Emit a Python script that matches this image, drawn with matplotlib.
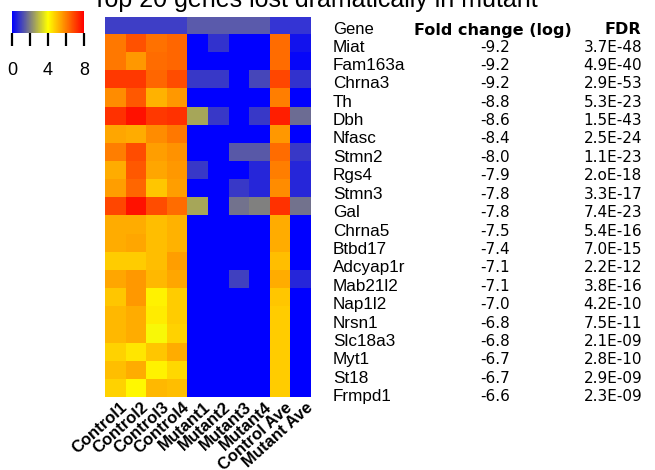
import numpy as np
import matplotlib
matplotlib.use('Agg')
import matplotlib.pyplot as plt
from matplotlib.colors import LinearSegmentedColormap, ListedColormap

W, H = 655, 470

genes = ['Miat', 'Fam163a', 'Chrna3', 'Th', 'Dbh', 'Nfasc', 'Stmn2', 'Rgs4', 'Stmn3', 'Gal',
         'Chrna5', 'Btbd17', 'Adcyap1r', 'Mab21l2', 'Nap1l2', 'Nrsn1', 'Slc18a3', 'Myt1', 'St18', 'Frmpd1']
fold = ['-9.2', '-9.2', '-9.2', '-8.8', '-8.6', '-8.4', '-8.0', '-7.9', '-7.8', '-7.8',
        '-7.5', '-7.4', '-7.1', '-7.1', '-7.0', '-6.8', '-6.8', '-6.7', '-6.7', '-6.6']
fdr = ['3.7E-48', '4.9E-40', '2.9E-53', '5.3E-23', '1.5E-43', '2.5E-24', '1.1E-23', '2.oE-18', '3.3E-17', '7.4E-23',
       '5.4E-16', '7.0E-15', '2.2E-12', '3.8E-16', '4.2E-10', '7.5E-11', '2.1E-09', '2.8E-10', '2.9E-09', '2.3E-09']

samples = ['Control1', 'Control2', 'Control3', 'Control4', 'Mutant1', 'Mutant2', 'Mutant3', 'Mutant4',
           'Control Ave', 'Mutant Ave']
groups = [0, 0, 0, 0, 1, 1, 1, 1, 2, 2]
group_colors = ['#3e3ec6', '#5a5aab', '#3434d4']

control1 = [6.1, 6.1, 7.1, 5.8, 7.2, 5.4, 6.0, 5.3, 5.5, 6.9, 5.3, 5.3, 4.8, 5.4, 4.9, 5.1, 5.1, 4.7, 5.0, 4.7]
control2 = [6.7, 5.6, 7.1, 6.6, 7.7, 5.3, 6.8, 6.6, 6.4, 7.7, 5.3, 5.4, 4.8, 5.6, 5.6, 5.3, 5.3, 4.4, 5.3, 4.1]
control3 = [6.2, 6.3, 6.4, 5.2, 7.1, 5.8, 5.5, 5.4, 4.9, 6.8, 5.0, 5.0, 5.0, 5.1, 4.2, 4.3, 3.9, 4.9, 4.2, 5.1]
control4 = [6.4, 6.4, 6.8, 5.6, 7.2, 6.1, 5.7, 5.6, 5.5, 6.3, 5.2, 5.2, 5.5, 5.4, 4.8, 4.8, 4.7, 5.3, 4.6, 5.0]
mutant1 = [0, 0, 0.9, 0, 2.6, 0, 0, 0.9, 0, 2.6, 0, 0, 0, 0, 0, 0, 0, 0, 0, 0]
mutant2 = [0.8, 0, 0.9, 0, 0.9, 0, 0, 0, 0, 0, 0, 0, 0, 0, 0, 0, 0, 0, 0, 0]
mutant3 = [0, 0, 0, 0, 0, 0, 1.4, 0, 0.9, 1.8, 0, 0, 0, 1.0, 0, 0, 0, 0, 0, 0]
mutant4 = [0, 0, 1.1, 0, 0.9, 0, 1.4, 0.6, 0.6, 2.0, 0, 0, 0, 0, 0, 0, 0, 0, 0, 0]
control_ave = [6.3, 6.3, 6.9, 6.0, 7.5, 5.6, 6.3, 6.0, 5.8, 7.2, 5.3, 5.3, 5.0, 5.3, 4.9, 4.8, 4.8, 4.8, 4.8, 4.8]
mutant_ave = [0.3, 0.1, 0.8, 0, 1.7, 0, 0.9, 0.6, 0.6, 1.8, 0, 0, 0, 0.6, 0, 0, 0, 0, 0, 0]

mat = np.array([control1, control2, control3, control4, mutant1, mutant2, mutant3, mutant4,
                control_ave, mutant_ave]).T

cmap = LinearSegmentedColormap.from_list('bgyr', [(0, '#0000ff'), (0.25, '#808080'),
                                                  (0.5, '#ffff00'), (1, '#ff0000')])

fig = plt.figure(figsize=(W / 100, H / 100), dpi=100)


def box(x0, y0, x1, y1):
    # pixel box (top-left origin) -> figure fraction rect
    return [x0 / W, 1 - y1 / H, (x1 - x0) / W, (y1 - y0) / H]


# group bar on top
axg = fig.add_axes(box(105, 17, 311, 34))
axg.imshow(np.array([groups]), cmap=ListedColormap(group_colors), aspect='auto',
           interpolation='nearest', vmin=-0.5, vmax=2.5)
axg.axis('off')

# heatmap
ax = fig.add_axes(box(105, 34, 311, 397))
ax.imshow(mat, cmap=cmap, vmin=0, vmax=8, aspect='auto', interpolation='nearest')
ax.set_xticks(np.arange(len(samples)) + 0.25)
ax.set_xticklabels(samples, rotation=42, ha='right', va='top', rotation_mode='anchor',
                   fontsize=12, fontweight='bold', family='Liberation Sans')
ax.tick_params(length=0, pad=2)
ax.set_yticks([])
for s in ax.spines.values():
    s.set_visible(False)

# colour key
cax = fig.add_axes(box(12, 11, 84, 33))
sm = plt.cm.ScalarMappable(cmap=cmap, norm=plt.Normalize(0, 8))
cb = fig.colorbar(sm, cax=cax, orientation='horizontal', ticks=[0, 2, 4, 6, 8])
cb.outline.set_visible(False)
cb.ax.set_xticklabels(['0', '', '4', '', '8'], fontsize=13, family='Liberation Sans')
cb.ax.tick_params(length=9, width=1.6, pad=12)

# table
fig.text(333 / W, 1 - 30 / H, 'Gene', ha='left', va='center', fontsize=12, family='Liberation Sans')
fig.text(493 / W, 1 - 30 / H, 'Fold change (log)', ha='center', va='center', fontsize=11.5,
         fontweight='bold', family='DejaVu Sans')
fig.text(623 / W, 1 - 30 / H, 'FDR', ha='center', va='center', fontsize=11.5,
         fontweight='bold', family='DejaVu Sans')
for i in range(len(genes)):
    y = 1 - (47 + i * 18.4) / H
    fig.text(333 / W, y, genes[i], ha='left', va='center', fontsize=12.3, family='Liberation Sans')
    fig.text(495 / W, y, fold[i], ha='center', va='center', fontsize=11, family='DejaVu Sans')
    fig.text(613 / W, y, fdr[i], ha='center', va='center', fontsize=11, family='DejaVu Sans')

# title, clipped at the top of the image
fig.text(315 / W, 1 - 7 / H, 'Top 20 genes lost dramatically in mutant', ha='center', va='baseline',
         fontsize=18, family='Liberation Sans')

fig.savefig('out.png', dpi=100)
